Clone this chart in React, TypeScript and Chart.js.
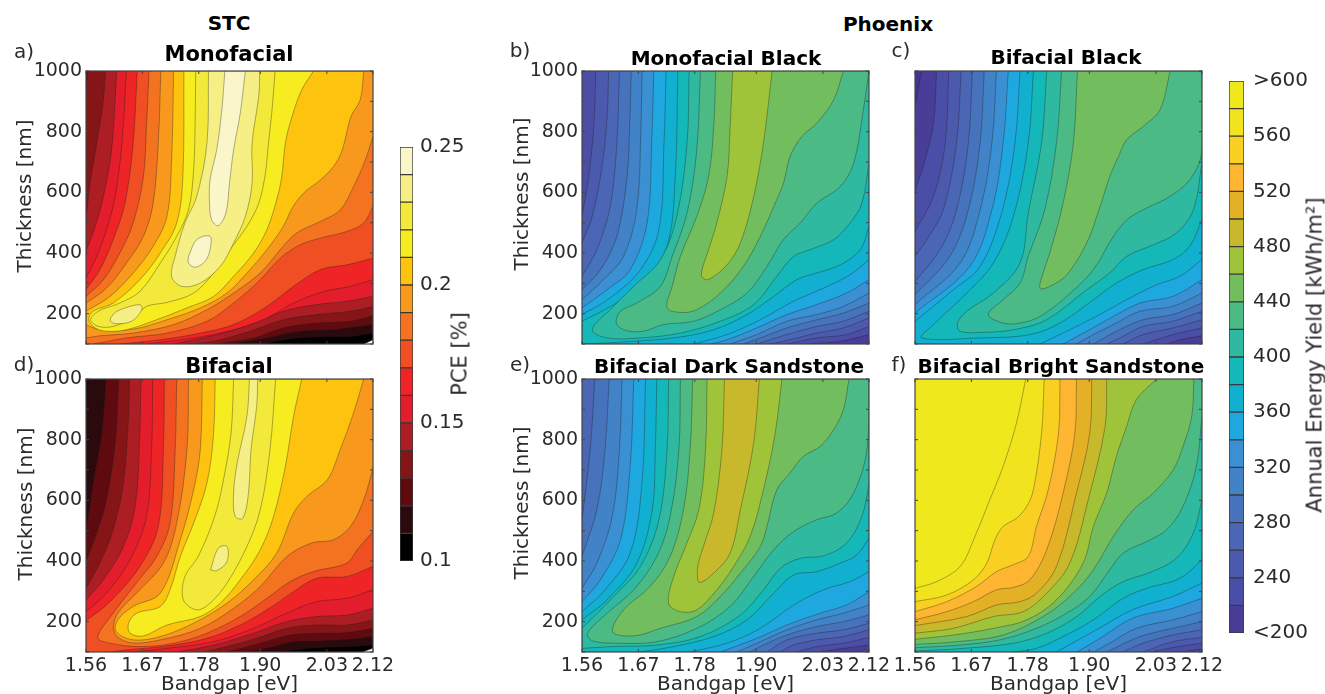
import React, { useEffect, useRef } from "react";
import { Chart, registerables } from "chart.js";
Chart.register(...registerables);

const FONT = "'DejaVu Sans'";
const INK = "#2b2b2b";
const bandgapTicks = [1.56, 1.67, 1.78, 1.9, 2.03, 2.12];
const thicknessTicks = [100, 200, 300, 400, 500, 600, 700, 800, 900, 1000];
const pceTicks = [0.1, 0.15, 0.2, 0.25];
const yieldTicks = [200, 240, 280, 320, 360, 400, 440, 480, 520, 560, 600];
const pceLevels = [0.1, 0.11, 0.12, 0.13, 0.14, 0.15, 0.16, 0.17, 0.18, 0.19, 0.2, 0.21, 0.22, 0.23, 0.24];
const pceColors = ["#000000", "#2a0a0c", "#5f0a0f", "#861517", "#ac1e24", "#e31d2c", "#ee2427", "#f04e23", "#f47320", "#f8991d", "#fdc30f", "#f6ec1f", "#f3e93a", "#f6ef86", "#faf6c9"];
const yieldLevels = [200, 220, 240, 260, 280, 300, 320, 340, 360, 380, 400, 420, 440, 460, 480, 500, 520, 540, 560, 580];
const yieldColors = ["#483e98", "#4a4ea6", "#4c5aae", "#4a66b4", "#4673bc", "#4282c6", "#3a90d2", "#1fa8e0", "#11b0d0", "#14b8b8", "#2fb9a0", "#4cba85", "#72be5f", "#9fc43a", "#c8b82c", "#e4b025", "#feb632", "#f9cf21", "#f1e41f", "#efe81c"];

// outer corners, beyond the axes (meV, nm): the plot area clips them
const TL = [1500, 1100];
const TR = [2200, 1100];
const BR = [2200, 0];
const BL = [1500, 0];
const FULL = [...TL, ...TR, ...BR, ...BL];

// contours: [level, flat list of bandgap (meV), thickness (nm)]
const contoursA: [number, number[]][] = [
  [0.1, [2102, 100, 2120, 114, ...TR, ...TL, ...BL]],
  [0.11, [1906, 100, 1952, 116, 2010, 123, 2076, 125, 2120, 136, ...TR, ...TL, ...BL]],
  [0.12, [1841, 100, 1913, 120, 1978, 142, 2043, 147, 2120, 164, ...TR, ...TL, ...BL]],
  [0.13, [1563, 1000, ...TR, 2120, 193, 2076, 175, 2010, 169, 1945, 153, 1887, 120, 1809, 100, ...BL, 1560, 938]],
  [0.14, [1598, 1000, ...TR, 2120, 224, 2076, 208, 2010, 197, 1945, 180, 1880, 142, 1809, 109, 1757, 100, ...BL, 1560, 510, 1568, 630, 1581, 762, 1594, 905]],
  [0.15, [1620, 1000, ...TR, 2120, 257, 2070, 241, 2010, 230, 1945, 208, 1880, 164, 1815, 131, 1731, 100, ...BL, 1560, 405, 1578, 488, 1594, 586, 1610, 740]],
  [0.16, [1639, 1000, ...TR, 2120, 312, 2076, 290, 2024, 273, 1965, 235, 1913, 186, 1848, 147, 1770, 120, 1678, 100, ...BL, 1560, 317, 1581, 389, 1600, 477, 1617, 586, 1630, 762]],
  [0.17, [1660, 1000, ...TR, 2120, 383, 2069, 361, 2017, 345, 1965, 290, 1913, 224, 1848, 164, 1783, 136, 1705, 114, 1626, 100, ...BL, 1560, 279, 1587, 345, 1613, 444, 1636, 564, 1652, 762]],
  [0.18, [1683, 1000, ...TR, 2120, 553, 2102, 499, 2069, 471, 2017, 449, 1978, 427, 1939, 383, 1900, 312, 1848, 235, 1796, 175, 1718, 136, 1639, 120, 1574, 100, ...BL, 1560, 257, 1594, 312, 1626, 400, 1652, 499, 1672, 652, 1678, 817]],
  [0.19, [1706, 1000, ...TR, 2120, 784, 2105, 707, 2082, 619, 2056, 542, 2017, 504, 1971, 466, 1939, 411, 1900, 334, 1848, 268, 1796, 213, 1731, 164, 1652, 136, 1587, 127, 1560, 120, 1560, 235, 1600, 284, 1639, 367, 1672, 455, 1691, 564, 1701, 762]],
  [0.2, [1731, 1000, 2102, 1000, 2095, 905, 2077, 850, 2060, 740, 2043, 685, 2014, 636, 1988, 603, 1964, 553, 1945, 488, 1913, 411, 1874, 334, 1835, 268, 1783, 219, 1718, 180, 1652, 149, 1587, 147, 1560, 164, 1560, 208, 1607, 257, 1652, 334, 1691, 422, 1718, 521, 1727, 707]],
  [0.21, [1751, 1000, 2004, 1000, 1981, 938, 1962, 850, 1949, 762, 1942, 652, 1932, 575, 1913, 477, 1887, 400, 1848, 323, 1809, 257, 1757, 219, 1698, 180, 1639, 147, 1600, 142, 1578, 153, 1565, 180, 1574, 208, 1613, 235, 1665, 312, 1705, 400, 1737, 499, 1749, 652]],
  [0.22, [1774, 1000, 1929, 1000, 1923, 872, 1916, 762, 1910, 663, 1897, 564, 1874, 488, 1841, 411, 1809, 334, 1770, 268, 1718, 237, 1678, 224, 1652, 186, 1613, 158, 1584, 158, 1569, 180, 1584, 208, 1626, 235, 1665, 273, 1705, 367, 1737, 455, 1760, 542, 1770, 674, 1773, 839]],
  [0.23, [1799, 1000, 1899, 1000, 1897, 916, 1884, 762, 1884, 630, 1871, 521, 1848, 433, 1822, 356, 1783, 301, 1747, 290, 1727, 323, 1734, 389, 1753, 499, 1776, 586, 1796, 762]],
  [0.23, [1608, 186, 1620, 208, 1665, 230, 1669, 213, 1649, 175, 1617, 167, 1608, 175]],
  [0.24, [1831, 1000, 1871, 1000, 1861, 861, 1848, 740, 1840, 630, 1833, 532, 1818, 490, 1805, 510, 1801, 564, 1802, 641, 1815, 740, 1825, 872]],
  [0.24, [1760, 389, 1776, 444, 1802, 455, 1802, 411, 1792, 372, 1773, 353, 1760, 367]],
];

const contoursD: [number, number[]][] = [
  [0.1, [2100, 100, 2120, 112, ...TR, ...TL, ...BL]],
  [0.11, [1563, 1000, ...TR, 2120, 123, 2076, 118, 2010, 114, 1965, 107, 1939, 100, ...BL, 1560, 910]],
  [0.12, [1599, 1000, ...TR, 2120, 151, 2076, 142, 2010, 136, 1965, 134, 1913, 112, 1874, 100, ...BL, 1560, 497, 1574, 657, 1591, 822]],
  [0.13, [1624, 1000, ...TR, 2120, 178, 2069, 164, 2010, 162, 1958, 156, 1900, 129, 1835, 100, ...BL, 1560, 398, 1581, 492, 1600, 602, 1617, 789]],
  [0.14, [1645, 1000, ...TR, 2120, 206, 2069, 189, 2010, 189, 1951, 178, 1893, 145, 1809, 107, 1783, 100, ...BL, 1560, 310, 1587, 393, 1613, 503, 1633, 657, 1643, 877]],
  [0.15, [1667, 1000, ...TR, 2120, 244, 2069, 222, 2010, 217, 1951, 200, 1887, 162, 1809, 123, 1737, 100, ...BL, 1560, 272, 1594, 338, 1633, 448, 1656, 580, 1665, 822]],
  [0.16, [1690, 1000, ...TR, 2120, 305, 2069, 277, 2010, 266, 1951, 228, 1887, 178, 1809, 134, 1718, 112, 1652, 100, ...BL, 1560, 233, 1600, 294, 1646, 404, 1678, 547, 1688, 767]],
  [0.17, [1713, 1000, ...TR, 2120, 382, 2069, 349, 2010, 343, 1965, 299, 1913, 239, 1861, 189, 1796, 145, 1718, 120, 1639, 107, 1607, 100, ...BL, 1560, 203, 1607, 266, 1665, 382, 1701, 514, 1711, 767]],
  [0.18, [1737, 1000, 1734, 767, 1724, 525, 1698, 415, 1658, 327, 1613, 228, 1583, 148, 1607, 129, 1665, 118, 1731, 129, 1796, 162, 1861, 217, 1913, 277, 1958, 332, 2004, 365, 2069, 393, 2089, 437, 2120, 497, ...TR]],
  [0.19, [1760, 1000, 1757, 767, 1737, 525, 1711, 393, 1665, 305, 1620, 222, 1616, 162, 1646, 131, 1705, 140, 1783, 178, 1848, 244, 1900, 316, 1939, 393, 1965, 431, 2004, 461, 2043, 470, 2076, 514, 2102, 602, 2120, 706, ...TR]],
  [0.2, [1787, 1000, 1783, 767, 1770, 635, 1744, 470, 1705, 294, 1652, 250, 1622, 206, 1619, 167, 1652, 140, 1705, 151, 1770, 195, 1835, 261, 1887, 338, 1932, 426, 1965, 558, 1991, 613, 2031, 668, 2056, 767, 2082, 888, 2102, 1000]],
  [0.21, [1812, 1000, 1809, 822, 1796, 657, 1770, 525, 1744, 415, 1724, 305, 1705, 250, 1659, 228, 1643, 195, 1646, 162, 1672, 153, 1718, 189, 1783, 217, 1822, 261, 1861, 338, 1900, 437, 1926, 547, 1949, 712, 1965, 877, 1981, 1000]],
  [0.22, [1848, 1000, 1843, 822, 1827, 657, 1811, 547, 1779, 415, 1753, 349, 1750, 272, 1776, 239, 1802, 261, 1835, 327, 1874, 448, 1900, 569, 1919, 767, 1930, 1000]],
  [0.23, [1879, 1000, 1874, 877, 1855, 723, 1848, 624, 1851, 547, 1866, 541, 1877, 624, 1882, 767, 1893, 910, 1895, 1000]],
  [0.23, [1803, 371, 1818, 442, 1835, 448, 1835, 398, 1815, 368]],
];

const contoursB: [number, number[]][] = [
  [220, [2005, 100, 2064, 109, 2120, 131, ...TR, ...TL, ...BL]],
  [240, [1587, 1000, ...TR, 2120, 158, 2076, 131, 2018, 120, 1960, 100, ...BL, 1560, 521, 1573, 652, 1583, 817]],
  [260, [1612, 1000, ...TR, 2120, 186, 2070, 153, 2018, 136, 1966, 114, 1927, 100, ...BL, 1560, 433, 1580, 521, 1599, 685, 1609, 850]],
  [280, [1633, 1000, ...TR, 2120, 208, 2070, 175, 2018, 158, 1960, 131, 1901, 100, ...BL, 1560, 323, 1589, 411, 1615, 553, 1628, 762]],
  [300, [1656, 1000, ...TR, 2120, 235, 2070, 202, 2018, 180, 1960, 153, 1908, 120, 1875, 100, ...BL, 1560, 279, 1596, 345, 1628, 455, 1648, 652, 1653, 817]],
  [320, [1677, 1000, ...TR, 2120, 268, 2070, 224, 2018, 197, 1960, 175, 1901, 131, 1849, 100, ...BL, 1560, 246, 1602, 312, 1641, 389, 1667, 547, 1675, 817]],
  [340, [1700, 1000, ...TR, 2120, 312, 2076, 268, 2018, 230, 1960, 197, 1901, 153, 1843, 114, 1810, 100, ...BL, 1560, 219, 1609, 279, 1654, 345, 1687, 499, 1696, 762]],
  [360, [1724, 1000, ...TR, 2120, 378, 2083, 328, 2031, 284, 1973, 241, 1908, 180, 1843, 131, 1778, 100, ...BL, 1560, 197, 1615, 252, 1674, 345, 1710, 477, 1720, 762]],
  [380, [1747, 1000, ...TR, 2120, 488, 2103, 411, 2064, 361, 2018, 334, 1979, 312, 1934, 257, 1882, 197, 1817, 147, 1739, 120, 1661, 109, 1602, 103, 1560, 100, 1560, 175, 1622, 230, 1680, 301, 1726, 422, 1742, 652]],
  [400, [1769, 1000, 1765, 762, 1745, 521, 1713, 378, 1661, 290, 1615, 213, 1580, 147, 1609, 120, 1674, 120, 1752, 136, 1830, 175, 1895, 230, 1940, 323, 1973, 389, 2005, 411, 2051, 444, 2083, 499, 2106, 564, 2120, 696, ...TR]],
  [420, [1791, 1000, 1784, 740, 1765, 532, 1736, 389, 1713, 290, 1667, 235, 1635, 208, 1627, 169, 1645, 145, 1680, 142, 1719, 164, 1778, 175, 1830, 213, 1882, 268, 1921, 356, 1953, 444, 1986, 499, 2018, 564, 2064, 619, 2090, 696, 2109, 872, 2120, 1000]],
  [440, [1821, 1000, 1817, 817, 1807, 652, 1784, 521, 1752, 389, 1736, 290, 1726, 219, 1752, 204, 1784, 213, 1830, 268, 1875, 356, 1908, 455, 1934, 553, 1953, 630, 1966, 718, 1989, 784, 2018, 828, 2051, 905, 2070, 1000]],
  [460, [1854, 1000, 1849, 817, 1843, 652, 1823, 499, 1807, 411, 1793, 328, 1805, 312, 1843, 361, 1869, 433, 1895, 586, 1914, 762, 1931, 1000]],
];

const contoursC: [number, number[]][] = [
  [200, [1573, 1000, ...TR, ...BR, ...BL, 1560, 883]],
  [220, [1602, 1000, ...TR, 2120, 127, 2077, 114, 2051, 100, ...BL, 1560, 608, 1576, 685, 1596, 826]],
  [240, [1626, 1000, ...TR, 2120, 153, 2063, 131, 2005, 100, ...BL, 1560, 471, 1596, 586, 1619, 762]],
  [260, [1650, 1000, ...TR, 2120, 180, 2063, 153, 2005, 131, 1966, 100, ...BL, 1560, 389, 1583, 444, 1615, 542, 1641, 762]],
  [280, [1672, 1000, ...TR, 2120, 208, 2063, 175, 2005, 158, 1960, 120, 1934, 100, ...BL, 1560, 306, 1609, 411, 1641, 542, 1664, 762]],
  [300, [1695, 1000, ...TR, 2120, 235, 2063, 197, 2005, 180, 1953, 142, 1908, 100, ...BL, 1560, 262, 1628, 389, 1664, 542, 1687, 762]],
  [320, [1719, 1000, ...TR, 2120, 268, 2063, 224, 1999, 208, 1947, 164, 1908, 131, 1875, 100, ...BL, 1560, 230, 1648, 367, 1687, 542, 1710, 762]],
  [340, [1742, 1000, ...TR, 2120, 312, 2063, 257, 1999, 235, 1947, 191, 1895, 142, 1849, 100, ...BL, 1560, 202, 1667, 356, 1710, 542, 1732, 762]],
  [360, [1765, 1000, ...TR, 2120, 378, 2077, 323, 2031, 295, 1973, 246, 1908, 186, 1856, 142, 1804, 100, ...BL, 1560, 175, 1635, 279, 1687, 356, 1729, 532, 1755, 762]],
  [380, [1791, 1000, 1781, 762, 1752, 521, 1713, 367, 1661, 268, 1596, 164, 1573, 120, 1687, 120, 1784, 131, 1843, 169, 1908, 246, 1953, 301, 2005, 345, 2063, 378, 2096, 422, 2120, 510, ...TR]],
  [400, [1817, 1000, 1807, 762, 1781, 532, 1765, 367, 1713, 268, 1661, 208, 1643, 169, 1648, 142, 1687, 138, 1752, 147, 1817, 180, 1895, 279, 1940, 334, 1973, 389, 2025, 427, 2070, 466, 2103, 542, 2120, 696, ...TR]],
  [420, [1846, 1000, 1836, 762, 1813, 542, 1781, 389, 1765, 301, 1732, 246, 1703, 197, 1732, 169, 1765, 169, 1804, 191, 1856, 257, 1908, 345, 1947, 455, 1976, 513, 2012, 548, 2057, 586, 2096, 641, 2119, 729, 2120, 1000]],
  [440, [1877, 1000, 1869, 762, 1849, 564, 1823, 400, 1810, 334, 1804, 284, 1823, 290, 1856, 328, 1895, 433, 1921, 553, 1940, 652, 1957, 718, 1973, 773, 2005, 817, 2038, 872, 2058, 1000]],
];

const contoursE: [number, number[]][] = [
  [220, [2025, 100, 2070, 112, 2120, 123, ...TR, ...TL, ...BL]],
  [240, [1979, 100, 2018, 118, 2070, 129, 2120, 148, ...TR, ...TL, ...BL]],
  [260, [1947, 100, 1973, 123, 2018, 140, 2070, 151, 2120, 173, ...TR, ...TL, ...BL]],
  [280, [1585, 1000, ...TR, 2120, 195, 2070, 173, 2018, 162, 1960, 140, 1921, 100, ...BL, 1560, 536, 1576, 767]],
  [300, [1613, 1000, ...TR, 2120, 222, 2070, 200, 2018, 184, 1960, 156, 1914, 123, 1888, 100, ...BL, 1560, 415, 1589, 569, 1605, 767]],
  [320, [1638, 1000, ...TR, 2120, 255, 2070, 228, 2018, 206, 1960, 173, 1908, 134, 1862, 100, ...BL, 1560, 310, 1589, 393, 1619, 547, 1633, 767]],
  [340, [1661, 1000, ...TR, 2120, 299, 2076, 255, 2025, 228, 1960, 189, 1901, 145, 1830, 100, ...BL, 1560, 266, 1596, 338, 1635, 470, 1654, 712]],
  [360, [1684, 1000, ...TR, 2120, 365, 2083, 332, 2031, 305, 1973, 255, 1908, 178, 1843, 129, 1771, 100, ...BL, 1560, 233, 1602, 299, 1654, 426, 1677, 657]],
  [380, [1706, 1000, ...TR, 2120, 475, 2096, 420, 2064, 393, 2018, 365, 1973, 354, 1934, 294, 1882, 206, 1817, 151, 1739, 118, 1674, 100, ...BL, 1560, 206, 1609, 272, 1667, 393, 1697, 569, 1703, 767]],
  [400, [1729, 1000, ...TR, 2120, 651, 2106, 547, 2076, 459, 2031, 417, 1986, 409, 1947, 376, 1914, 305, 1869, 222, 1791, 151, 1706, 123, 1622, 118, 1560, 112, 1560, 178, 1622, 283, 1674, 382, 1710, 536, 1726, 767]],
  [420, [1752, 1000, 1749, 767, 1732, 547, 1706, 415, 1661, 305, 1609, 228, 1571, 162, 1580, 137, 1628, 129, 1706, 134, 1784, 178, 1849, 250, 1895, 349, 1934, 437, 1973, 497, 2018, 536, 2057, 558, 2090, 624, 2116, 767, 2120, 1000]],
  [440, [1776, 1000, 1771, 767, 1758, 569, 1732, 415, 1693, 316, 1641, 239, 1620, 167, 1661, 153, 1713, 178, 1784, 217, 1830, 283, 1869, 360, 1908, 448, 1921, 514, 1940, 635, 1966, 690, 1992, 745, 2025, 778, 2051, 833, 2070, 899, 2081, 1000]],
  [460, [1804, 1000, 1801, 767, 1788, 569, 1762, 448, 1739, 349, 1729, 261, 1752, 233, 1784, 239, 1823, 305, 1856, 382, 1888, 481, 1914, 635, 1937, 822, 1950, 1000]],
  [480, [1838, 1000, 1833, 767, 1817, 558, 1797, 448, 1786, 382, 1789, 330, 1817, 360, 1849, 426, 1869, 569, 1895, 789, 1906, 1000]],
];

const contoursF: [number, number[]][] = [
  [220, [2077, 100, 2120, 110, ...TR, ...TL, ...BL]],
  [240, [2025, 100, 2063, 115, 2120, 129, ...TR, ...TL, ...BL]],
  [260, [2005, 100, 2063, 134, 2120, 148, ...TR, ...TL, ...BL]],
  [280, [1966, 100, 2005, 129, 2063, 156, 2120, 173, ...TR, ...TL, ...BL]],
  [300, [1934, 100, 1999, 151, 2063, 178, 2120, 200, ...TR, ...TL, ...BL]],
  [320, [1908, 100, 1940, 129, 1992, 178, 2063, 206, 2120, 233, ...TR, ...TL, ...BL]],
  [340, [1876, 100, 1921, 145, 1984, 211, 2063, 244, 2120, 277, ...TR, ...TL, ...BL]],
  [360, [1836, 100, 1914, 173, 1984, 239, 2063, 283, 2120, 327, ...TR, ...TL, ...BL]],
  [380, [1752, 100, 1797, 112, 1849, 151, 1908, 206, 1966, 277, 2012, 310, 2077, 343, 2120, 404, ...TR, ...TL, ...BL]],
  [400, [1560, 103, 1654, 112, 1752, 129, 1817, 162, 1876, 217, 1921, 283, 1966, 332, 2018, 362, 2070, 409, 2103, 492, 2120, 602, ...TR, ...TL]],
  [420, [1560, 114, 1648, 123, 1726, 140, 1797, 178, 1856, 228, 1901, 283, 1940, 371, 1966, 426, 2012, 464, 2051, 503, 2083, 580, 2109, 712, 2120, 877, ...TR, ...TL]],
  [440, [1560, 125, 1641, 134, 1732, 156, 1810, 217, 1869, 294, 1908, 371, 1947, 481, 1986, 569, 2025, 624, 2064, 701, 2083, 778, 2100, 877, 2104, 1000, ...TL]],
  [460, [1560, 142, 1635, 156, 1713, 178, 1778, 206, 1836, 272, 1888, 393, 1908, 514, 1934, 624, 1953, 745, 1973, 844, 1992, 932, 2031, 1000, ...TL]],
  [480, [1560, 162, 1635, 178, 1713, 217, 1771, 233, 1817, 294, 1862, 393, 1898, 602, 1931, 844, 1934, 1000, ...TL]],
  [500, [1560, 187, 1661, 217, 1719, 255, 1765, 266, 1797, 294, 1836, 382, 1875, 624, 1901, 822, 1905, 1000, ...TL]],
  [520, [1560, 206, 1622, 233, 1674, 266, 1719, 305, 1752, 313, 1784, 338, 1817, 437, 1849, 624, 1872, 822, 1875, 1000, ...TL]],
  [540, [1560, 233, 1622, 266, 1680, 316, 1719, 365, 1752, 388, 1781, 415, 1797, 514, 1820, 635, 1840, 822, 1843, 1000, ...TL]],
  [560, [1560, 266, 1622, 288, 1674, 338, 1700, 393, 1716, 470, 1732, 514, 1758, 541, 1778, 580, 1791, 635, 1807, 822, 1812, 1000, ...TL]],
  [580, [1560, 310, 1602, 332, 1648, 382, 1677, 481, 1706, 602, 1732, 712, 1758, 855, 1776, 1000, ...TL]],
];

function toPoints(flat: number[]) {
  const pts: { x: number; y: number }[] = [];
  const add = (x: number, y: number) => {
    pts.push({ x: x / 1000, y });
    // points on the frame or beyond it stay sharp corners of the closed shape
    if (x <= 1560 || x >= 2120 || y <= 100 || y >= 1000) pts.push({ x: x / 1000, y });
  };
  for (let i = 0; i + 1 < flat.length; i += 2) add(flat[i], flat[i + 1]);
  add(flat[0], flat[1]);
  return pts;
}

const frameAndTicks = {
  id: "frameAndTicks",
  afterDraw(chart: any) {
    const { ctx, chartArea: a, scales } = chart;
    ctx.save();
    ctx.strokeStyle = "#444444";
    ctx.lineWidth = 1;
    ctx.beginPath();
    for (const t of scales.x.ticks) {
      const p = scales.x.getPixelForValue(t.value);
      ctx.moveTo(p, a.top); ctx.lineTo(p, a.top + 3);
      ctx.moveTo(p, a.bottom); ctx.lineTo(p, a.bottom - 3);
    }
    for (const t of scales.y.ticks) {
      const p = scales.y.getPixelForValue(t.value);
      ctx.moveTo(a.left, p); ctx.lineTo(a.left + 3, p);
      ctx.moveTo(a.right, p); ctx.lineTo(a.right - 3, p);
    }
    ctx.stroke();
    ctx.lineWidth = 1.2;
    ctx.strokeRect(a.left, a.top, a.right - a.left, a.bottom - a.top);
    ctx.restore();
  },
};

type PanelProps = {
  box: number[];
  contours: [number, number[]][];
  levels: number[];
  colors: string[];
  floor: string;
  showX: boolean;
  showY: boolean;
};

const GUTTER = 86;
const UNDER = 45;
const PAD_TOP = 20;
const PAD_RIGHT = 30;
const BAR_PAD = 26;

function Panel({ box, contours, levels, colors, floor, showX, showY }: PanelProps) {
  const ref = useRef<HTMLCanvasElement>(null);
  const [l, t, r, b] = box;
  useEffect(() => {
    const layers = [[levels[0] - 1, FULL] as [number, number[]], ...contours];
    const datasets = layers
      .map(([level, flat]) => {
        const idx = levels.indexOf(level);
        return {
          data: toPoints(flat),
          fill: "shape",
          backgroundColor: idx < 0 ? floor : colors[idx],
          borderColor: "rgba(30,30,30,0.5)",
          borderWidth: 0.7,
          pointRadius: 0,
          tension: 0.35,
          capBezierPoints: false,
        };
      })
      .reverse();
    const chart = new Chart(ref.current!, {
      type: "line",
      data: { datasets: datasets as any },
      plugins: [frameAndTicks],
      options: {
        animation: false,
        responsive: false,
        layout: { autoPadding: false, padding: { top: PAD_TOP, right: PAD_RIGHT, left: 0, bottom: 0 } },
        plugins: { legend: { display: false }, tooltip: { enabled: false } },
        scales: {
          x: {
            type: "linear",
            min: 1.56,
            max: 2.12,
            afterBuildTicks: (s: any) => { s.ticks = bandgapTicks.map((value) => ({ value })); },
            afterFit: (s: any) => { s.height = UNDER; },
            grid: { display: false, drawTicks: false },
            border: { display: false },
            ticks: {
              display: showX,
              autoSkip: false,
              maxRotation: 0,
              padding: 3,
              color: INK,
              font: { family: FONT, size: 19 },
              callback: (v: any) => Number(v).toFixed(2),
            },
            title: { display: showX, text: "Bandgap [eV]", color: INK, padding: { top: 0, bottom: 0 }, font: { family: FONT, size: 20 } },
          },
          y: {
            type: "linear",
            min: 100,
            max: 1000,
            afterBuildTicks: (s: any) => { s.ticks = thicknessTicks.map((value) => ({ value })); },
            afterFit: (s: any) => { s.width = GUTTER; },
            grid: { display: false, drawTicks: false },
            border: { display: false },
            ticks: {
              display: showY,
              autoSkip: false,
              padding: 4,
              color: INK,
              font: { family: FONT, size: 19 },
              callback: (v: any) => (Number(v) % 200 === 0 ? String(v) : ""),
            },
          },
        },
      } as any,
    });
    return () => chart.destroy();
  }, []);
  return (
    <canvas
      ref={ref}
      width={GUTTER + (r - l) + PAD_RIGHT}
      height={PAD_TOP + (b - t) + UNDER}
      style={{ position: "absolute", left: l - GUTTER, top: t - PAD_TOP, display: "block" }}
    />
  );
}

type BarProps = {
  box: number[];
  levels: number[];
  colors: string[];
  top: number;
  ticksList: number[];
  gap: number;
  label: (v: number) => string;
};

function ColorBar({ box, levels, colors, top, ticksList, gap, label }: BarProps) {
  const ref = useRef<HTMLCanvasElement>(null);
  const [l, t, r, b] = box;
  useEffect(() => {
    const datasets = levels.map((lo, i) => ({
      data: [[lo, i + 1 < levels.length ? levels[i + 1] : top]],
      backgroundColor: colors[i],
      borderColor: "#3a3a3a",
      borderWidth: 1,
      borderSkipped: false,
      barPercentage: 1,
      categoryPercentage: 1,
      grouped: false,
    }));
    const chart = new Chart(ref.current!, {
      type: "bar",
      data: { labels: [""], datasets: datasets as any },
      options: {
        animation: false,
        responsive: false,
        layout: { autoPadding: false, padding: { top: BAR_PAD, bottom: BAR_PAD, left: 0, right: 0 } },
        plugins: { legend: { display: false }, tooltip: { enabled: false } },
        scales: {
          x: { display: false },
          y: {
            position: "right",
            min: levels[0],
            max: top,
            afterBuildTicks: (s: any) => { s.ticks = ticksList.map((value) => ({ value })); },
            afterFit: (s: any) => { s.width = 70; },
            grid: { display: false, drawTicks: false },
            border: { display: false },
            ticks: { autoSkip: false, padding: gap, color: INK, font: { family: FONT, size: 20 }, callback: (v: any) => label(Number(v)) },
          },
        },
      } as any,
    });
    return () => chart.destroy();
  }, []);
  return (
    <canvas
      ref={ref}
      width={r - l + 70}
      height={b - t + BAR_PAD * 2}
      style={{ position: "absolute", left: l, top: t - BAR_PAD, display: "block" }}
    />
  );
}

function Txt({ x, y, size = 20, bold = false, rot = false, children }: any) {
  return (
    <div
      style={{
        position: "absolute",
        left: x,
        top: y,
        transform: `translate(-50%,-50%)${rot ? " rotate(-90deg)" : ""}`,
        font: `${bold ? "bold " : ""}${size}px ${FONT}`,
        color: bold ? "#000" : INK,
        whiteSpace: "nowrap",
        lineHeight: 1,
      }}
    >
      {children}
    </div>
  );
}

const boxA = [86, 71, 373, 344];
const boxD = [86, 379, 373, 652];
const boxB = [582, 71, 869, 344];
const boxE = [582, 379, 869, 652];
const boxC = [915, 71, 1202, 344];
const boxF = [915, 379, 1202, 652];

export default function App() {
  const yLabel = (v: number) => (v === 600 ? ">600" : v === 200 ? "<200" : String(v));
  return (
    <div style={{ position: "absolute", left: 0, top: 0, width: 1325, height: 694, overflow: "hidden", background: "#fff" }}>
      <Panel box={boxA} contours={contoursA} levels={pceLevels} colors={pceColors} floor="#ffffff" showX={false} showY />
      <Panel box={boxD} contours={contoursD} levels={pceLevels} colors={pceColors} floor="#ffffff" showX showY />
      <Panel box={boxB} contours={contoursB} levels={yieldLevels} colors={yieldColors} floor="#483e98" showX={false} showY />
      <Panel box={boxE} contours={contoursE} levels={yieldLevels} colors={yieldColors} floor="#483e98" showX showY />
      <Panel box={boxC} contours={contoursC} levels={yieldLevels} colors={yieldColors} floor="#433693" showX={false} showY={false} />
      <Panel box={boxF} contours={contoursF} levels={yieldLevels} colors={yieldColors} floor="#483e98" showX showY={false} />
      <ColorBar box={[400, 147, 413, 561]} levels={pceLevels} colors={pceColors} top={0.25} ticksList={pceTicks} gap={7} label={(v) => String(v)} />
      <ColorBar box={[1229, 81, 1244, 633]} levels={yieldLevels} colors={yieldColors} top={600} ticksList={yieldTicks} gap={9} label={yLabel} />
      <Txt x={229} y={23} bold>STC</Txt>
      <Txt x={888} y={24} bold>Phoenix</Txt>
      <Txt x={229} y={54} size={21} bold>Monofacial</Txt>
      <Txt x={229} y={366} size={21} bold>Bifacial</Txt>
      <Txt x={726} y={58} bold>Monofacial Black</Txt>
      <Txt x={1066} y={57} bold>Bifacial Black</Txt>
      <Txt x={729} y={366} bold>Bifacial Dark Sandstone</Txt>
      <Txt x={1061} y={366} bold>Bifacial Bright Sandstone</Txt>
      <Txt x={24} y={51}>a)</Txt>
      <Txt x={520} y={50}>b)</Txt>
      <Txt x={901} y={50}>c)</Txt>
      <Txt x={24} y={364}>d)</Txt>
      <Txt x={520} y={364}>e)</Txt>
      <Txt x={899} y={364}>f)</Txt>
      <Txt x={24} y={196} rot>Thickness [nm]</Txt>
      <Txt x={25} y={504} rot>Thickness [nm]</Txt>
      <Txt x={521} y={194} rot>Thickness [nm]</Txt>
      <Txt x={521} y={503} rot>Thickness [nm]</Txt>
      <Txt x={460} y={354} size={21} rot>PCE [%]</Txt>
      <Txt x={1315} y={355} size={21} rot>Annual Energy Yield [kWh/m²]</Txt>
    </div>
  );
}
